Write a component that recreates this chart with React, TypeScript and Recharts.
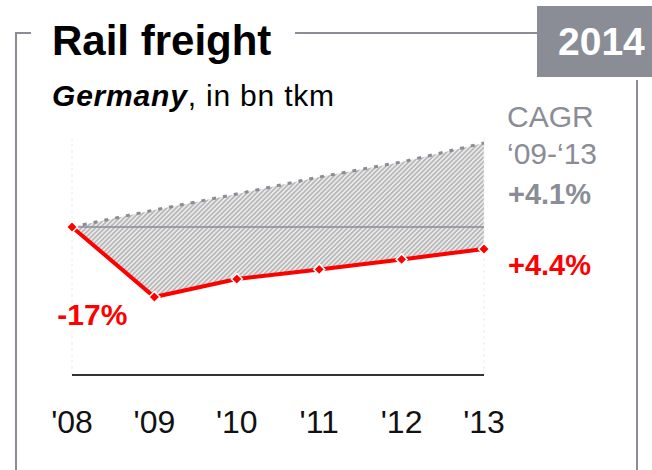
import React from "react";
import {
  ComposedChart,
  Line,
  Area,
  XAxis,
  YAxis,
  ReferenceLine,
  LabelList,
} from "recharts";

const years = ["'08", "'09", "'10", "'11", "'12", "'13"];
const freight = [100, 82.5, 87, 89.4, 91.9, 94.5];
const benchmark = [100, 104.25, 108.25, 112.5, 116.25, 121];
const freightLabels = ["", "-17%", "", "", "", "+4.4%"];

const data = years.map((y, i) => ({
  year: y,
  freight: freight[i],
  bench: benchmark[i],
  band: [freight[i], benchmark[i]],
  label: freightLabels[i],
}));

const GRAY = "#8a8d96";
const RED = "#ff0000";
const FONT = "'Liberation Sans', Arial, sans-serif";

const Diamond = (props: any) => {
  const { cx, cy, index } = props;
  if (cx == null || cy == null) return <g key={index} />;
  const r = 5.5;
  return (
    <path
      key={index}
      d={`M${cx},${cy - r}L${cx + r},${cy}L${cx},${cy + r}L${cx - r},${cy}Z`}
      fill={RED}
      stroke="#fff"
      strokeWidth={1.5}
    />
  );
};

const Tick = (props: any) => {
  const { x, y, payload } = props;
  return (
    <text
      x={x}
      y={y + 58}
      textAnchor="middle"
      fontFamily={FONT}
      fontSize={32}
      fill="#111"
    >
      {payload.value}
    </text>
  );
};

const renderLabel = (props: any) => {
  const { value, index } = props;
  const x = props.x ?? props.viewBox?.x;
  const y = props.y ?? props.viewBox?.y;
  if (!value) return null;
  if (value.startsWith("-")) {
    return (
      <text
        key={index}
        x={x - 27}
        y={y + 28}
        textAnchor="end"
        fontFamily={FONT}
        fontWeight="bold"
        fontSize={30}
        fill={RED}
      >
        {value}
      </text>
    );
  }
  return (
    <text
      key={index}
      x={x + 24}
      y={y + 26}
      textAnchor="start"
      fontFamily={FONT}
      fontWeight="bold"
      fontSize={29}
      fill={RED}
    >
      {value}
    </text>
  );
};

export default function App() {
  return (
    <div
      style={{
        position: "absolute",
        left: 0,
        top: 0,
        width: 652,
        height: 470,
        background: "#fff",
        overflow: "hidden",
      }}
    >
      <svg
        width={652}
        height={470}
        style={{ position: "absolute", left: 0, top: 0 }}
      >
        <defs>
          <pattern
            id="hatch"
            width={3.3}
            height={3.3}
            patternUnits="userSpaceOnUse"
            patternTransform="rotate(45)"
          >
            <rect width={3.3} height={3.3} fill="#f0f0f0" />
            <line x1={1} y1={0} x2={1} y2={3.3} stroke="#b3b3b3" strokeWidth={1.7} />
          </pattern>
        </defs>
      </svg>
      <div style={{ position: "absolute", left: 0, top: 0 }}>
        <ComposedChart
          width={652}
          height={470}
          data={data}
          margin={{ top: 135, right: 168, left: 72, bottom: 35 }}
        >
          <XAxis
            dataKey="year"
            scale="point"
            height={60}
            tickSize={0}
            tickMargin={0}
            tickLine={false}
            axisLine={{ stroke: "#333", strokeWidth: 2 }}
            tick={<Tick />}
            interval={0}
          />
          <YAxis hide domain={[63, 123]} type="number" />
          <ReferenceLine x="'08" stroke="#ececec" strokeDasharray="3 3" />
          <ReferenceLine x="'13" stroke="#ececec" strokeDasharray="3 3" />
          <Area
            dataKey="band"
            stroke="none"
            fill="url(#hatch)"
            fillOpacity={1}
            isAnimationActive={false}
            dot={false}
            activeDot={false}
          />
          <ReferenceLine y={100} stroke={GRAY} strokeWidth={1.5} />
          <Line
            dataKey="bench"
            stroke={GRAY}
            strokeWidth={3}
            strokeDasharray="4 7"
            dot={false}
            activeDot={false}
            isAnimationActive={false}
          />
          <Line
            dataKey="freight"
            stroke={RED}
            strokeWidth={4}
            dot={<Diamond />}
            activeDot={false}
            isAnimationActive={false}
          >
            <LabelList dataKey="label" content={renderLabel} />
          </Line>
        </ComposedChart>
      </div>
      <svg
        width={652}
        height={470}
        style={{ position: "absolute", left: 0, top: 0, pointerEvents: "none" }}
      >
        <path d="M16,470 V33 H31" fill="none" stroke={GRAY} strokeWidth={2} />
        <line x1={295} y1={33} x2={537} y2={33} stroke={GRAY} strokeWidth={2} />
        <rect x={537} y={6} width={115} height={71} fill={GRAY} />
        <text
          x={558}
          y={55}
          fontFamily={FONT}
          fontWeight="bold"
          fontSize={39}
          fill="#fff"
        >
          2014
        </text>
        <line x1={637} y1={80} x2={637} y2={470} stroke={GRAY} strokeWidth={2} />
        <text
          x={52}
          y={55}
          fontFamily={FONT}
          fontWeight="bold"
          fontSize={42}
          fill="#000"
        >
          Rail freight
        </text>
        <text
          x={52}
          y={106}
          fontFamily={FONT}
          fontSize={30}
          letterSpacing={0.8}
          fill="#000"
        >
          <tspan fontWeight="bold" fontStyle="italic">
            Germany
          </tspan>
          <tspan>, in bn tkm</tspan>
        </text>
        <text x={507} y={127} fontFamily={FONT} fontSize={30} fill={GRAY}>
          CAGR
        </text>
        <text x={507} y={164} fontFamily={FONT} fontSize={30} fill={GRAY}>
          ‘09-‘13
        </text>
        <text
          x={508}
          y={204}
          fontFamily={FONT}
          fontWeight="bold"
          fontSize={29}
          fill={GRAY}
        >
          +4.1%
        </text>
      </svg>
    </div>
  );
}
